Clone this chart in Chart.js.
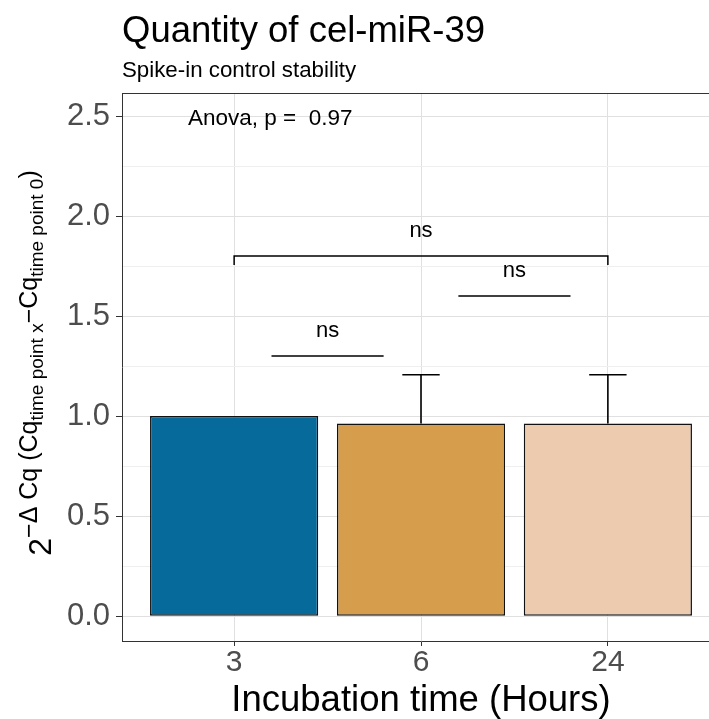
<!DOCTYPE html>
<html>
<head>
<meta charset="utf-8">
<script src="https://cdn.jsdelivr.net/npm/chart.js@4.4.0/dist/chart.umd.min.js"></script>
<style>
  html, body { margin: 0; padding: 0; overflow: hidden; background: #fff; }
  #wrap { width: 709px; height: 719px; overflow: hidden; }
</style>
</head>
<body>
<div id="wrap"><canvas id="c" width="720" height="719"></canvas></div>
<script>
// ---- data ----
const hours = ['3', '6', '24'];
const meanRatio = [1.0, 0.963, 0.963];
const errTop = [1.0, 1.207, 1.207];
const barColors = ['#066b9a', '#d59d4c', '#edcbaf'];
const yMajor = [0, 0.5, 1.0, 1.5, 2.0, 2.5];

// pairwise comparisons (x in category units)
const cmpFrom = [0.2, 1.2, 0];
const cmpTo = [0.8, 1.8, 2];
const cmpY = [1.3, 1.6, 1.8];
const cmpTip = [0, 0, 0.045];
const cmpLabel = ['ns', 'ns', 'ns'];

const anovaText = 'Anova, p =  0.97';
const anovaPos = [-0.247, 2.5];

const FF = '"Liberation Sans", Arial, sans-serif';

// minor breaks halfway between majors
const yMinor = yMajor.slice(1).map((v, i) => (v + yMajor[i]) / 2);
const yAll = [...yMajor, ...yMinor].sort((a, b) => a - b);
const isMajor = v => yMajor.some(m => Math.abs(m - v) < 1e-9);

const overlay = {
  id: 'overlay',
  afterDatasetsDraw(chart) {
    const { ctx, scales: { x, y } } = chart;
    ctx.save();
    ctx.strokeStyle = '#000';
    ctx.lineWidth = 1.6;
    // error bars (upper only)
    meanRatio.forEach((m, i) => {
      if (errTop[i] <= m) return;
      const px = x.getPixelForValue(i);
      const cap = x.getPixelForValue(i + 0.1) - px;
      const y0 = y.getPixelForValue(m), y1 = y.getPixelForValue(errTop[i]);
      ctx.beginPath();
      ctx.moveTo(px, y0); ctx.lineTo(px, y1);
      ctx.moveTo(px - cap, y1); ctx.lineTo(px + cap, y1);
      ctx.stroke();
    });
    // comparison brackets
    ctx.lineWidth = 1.5;
    ctx.fillStyle = '#000';
    ctx.font = '22px ' + FF;
    ctx.textAlign = 'center';
    ctx.textBaseline = 'alphabetic';
    cmpY.forEach((v, i) => {
      const xa = x.getPixelForValue(cmpFrom[i]), xb = x.getPixelForValue(cmpTo[i]);
      const py = y.getPixelForValue(v);
      ctx.beginPath();
      if (cmpTip[i] > 0) {
        const pt = y.getPixelForValue(v - cmpTip[i]);
        ctx.moveTo(xa, pt); ctx.lineTo(xa, py); ctx.lineTo(xb, py); ctx.lineTo(xb, pt);
      } else {
        ctx.moveTo(xa, py); ctx.lineTo(xb, py);
      }
      ctx.stroke();
      ctx.fillText(cmpLabel[i], (xa + xb) / 2, py - 19);
    });
    // anova
    ctx.textAlign = 'left';
    ctx.font = '22.5px ' + FF;
    ctx.fillText(anovaText, x.getPixelForValue(anovaPos[0]), y.getPixelForValue(anovaPos[1]) + 9);
    ctx.restore();
  },
  afterDraw(chart) {
    const { ctx, chartArea: a } = chart;
    ctx.save();
    // top panel border
    ctx.strokeStyle = '#333';
    ctx.lineWidth = 1;
    ctx.beginPath();
    ctx.moveTo(a.left, a.top + 0.5); ctx.lineTo(a.right, a.top + 0.5);
    ctx.stroke();

    ctx.fillStyle = '#000';
    ctx.textBaseline = 'alphabetic';
    ctx.textAlign = 'left';
    ctx.font = '36.5px ' + FF;
    ctx.fillText('Quantity of cel-miR-39', 122, 42);
    ctx.font = '22.3px ' + FF;
    ctx.fillText('Spike-in control stability', 122, 77);

    // x title
    ctx.textAlign = 'center';
    ctx.font = '36.5px ' + FF;
    ctx.fillText('Incubation time (Hours)', (a.left + a.right) / 2, 711);

    // y title: 2^(−Δ Cq (Cq_time point x − Cq_time point 0))
    const parts = [
      { t: '2', s: 32, dy: 0 },
      { t: '\u2212\u0394 Cq (Cq', s: 25, dy: -14 },
      { t: 'time point x', s: 19, dy: -8 },
      { t: '\u2212Cq', s: 25, dy: -14 },
      { t: 'time point 0', s: 19, dy: -8 },
      { t: ')', s: 25, dy: -14 }
    ];
    let total = 0;
    parts.forEach(p => { ctx.font = p.s + 'px ' + FF; p.w = ctx.measureText(p.t).width; total += p.w; });
    ctx.translate(51, 363);
    ctx.rotate(-Math.PI / 2);
    ctx.textAlign = 'left';
    let cx = -total / 2;
    parts.forEach(p => {
      ctx.font = p.s + 'px ' + FF;
      ctx.fillText(p.t, cx, p.dy);
      cx += p.w;
    });
    ctx.restore();
  }
};

new Chart(document.getElementById('c'), {
  type: 'bar',
  data: {
    datasets: [{
      data: meanRatio.map((v, i) => ({ x: i, y: v })),
      backgroundColor: barColors,
      borderColor: '#111',
      borderWidth: 1.5,
      borderSkipped: false,
      barPercentage: 0.9,
      categoryPercentage: 1.0
    }]
  },
  options: {
    responsive: false,
    animation: false,
    layout: { padding: { top: 93, right: 0, left: 0, bottom: 0 } },
    plugins: { legend: { display: false }, tooltip: { enabled: false } },
    scales: {
      x: {
        type: 'linear',
        offset: false,
        min: -0.6, max: 2.6,
        afterBuildTicks: s => { s.ticks = hours.map((h, i) => ({ value: i })); },
        afterFit: s => { s.height = 78; },
        ticks: {
          autoSkip: false,
          callback: v => hours[v],
          color: '#4d4d4d',
          font: { family: FF, size: 30, lineHeight: 1 },
          padding: 2
        },
        grid: { offset: false, color: '#e0e0e0', tickColor: '#333', tickLength: 5 },
        border: { color: '#333', width: 1 }
      },
      y: {
        min: -0.124, max: 2.615,
        afterBuildTicks: s => { s.ticks = yAll.map(v => ({ value: v })); },
        afterFit: s => { s.width = 122; },
        ticks: {
          autoSkip: false,
          callback: v => isMajor(v) ? v.toFixed(1) : '',
          color: '#4d4d4d',
          font: { family: FF, size: 31 },
          padding: 6
        },
        grid: {
          color: c => isMajor(c.tick.value) ? '#e0e0e0' : '#efefef',
          tickColor: c => isMajor(c.tick.value) ? '#333' : 'rgba(0,0,0,0)',
          tickLength: 6
        },
        border: { color: '#333', width: 1 }
      }
    }
  },
  plugins: [overlay]
});
</script>
</body>
</html>
